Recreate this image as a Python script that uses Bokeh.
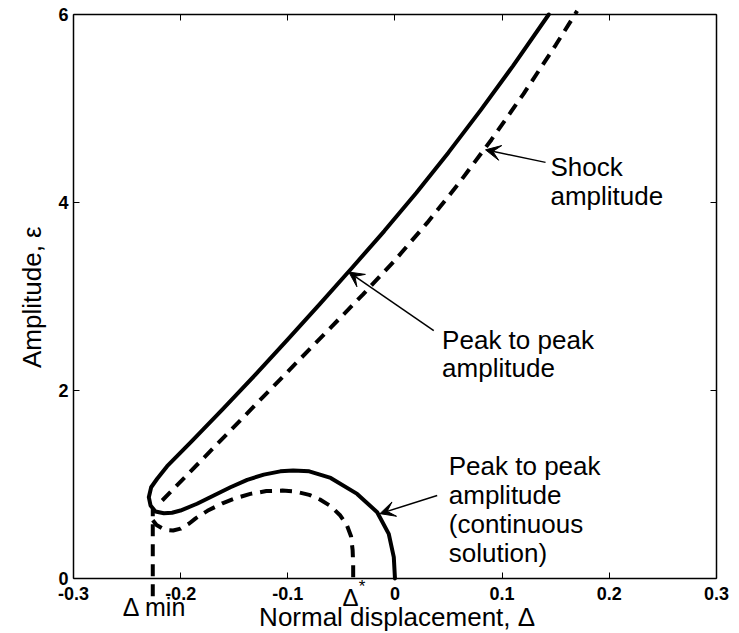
import math
from bokeh.plotting import figure
from bokeh.models import Range1d, LinearAxis, FixedTicker, Label, Arrow, VeeHead
from bokeh.embed import file_html
from bokeh.resources import INLINE

# ---- data ---------------------------------------------------------------
# Peak-to-peak amplitude: upper (shock) branch, loop near delta_min, and the
# continuous-solution branch closing on delta = 0
pp_upper_x = [0.1435, 0.110, 0.080, 0.050, 0.020, -0.010, -0.040, -0.070, -0.100,
              -0.130, -0.160, -0.190, -0.2126]
pp_upper_eps = [6.0, 5.451, 4.983, 4.533, 4.104, 3.696, 3.306, 2.922, 2.544,
                2.172, 1.809, 1.455, 1.195]

pp_loop_x = [-0.2219, -0.2275, -0.2297, -0.2281, -0.2235]
pp_loop_eps = [1.061, 0.971, 0.865, 0.777, 0.712]

pp_cont_x = [-0.2157, -0.2080, -0.2002, -0.1847, -0.1691, -0.1535, -0.1379, -0.1224,
             -0.107, -0.095, -0.080, -0.060, -0.0353, -0.0166, -0.0058, -0.0011, 0.0]
pp_cont_eps = [0.695, 0.700, 0.723, 0.795, 0.883, 0.971, 1.050, 1.105,
               1.140, 1.150, 1.140, 1.070, 0.900, 0.705, 0.475, 0.227, 0.0]

# Shock amplitude (dashed)
shock_upper_x = [-0.2172, -0.184, -0.150, -0.100, -0.050, -0.030, 0.0, 0.030,
                 0.060, 0.090, 0.120, 0.150, 0.170]
shock_upper_eps = [0.83, 1.218, 1.616, 2.201, 2.786, 3.020, 3.386, 3.783,
                   4.210, 4.668, 5.156, 5.675, 6.038]

shock_cont_x = [-0.226, -0.2225, -0.2172, -0.212, -0.207, -0.200, -0.192, -0.186,
                -0.175, -0.161, -0.150, -0.135, -0.120, -0.105, -0.093, -0.080,
                -0.070, -0.060, -0.051, -0.045, -0.041, -0.0395, -0.039, -0.039]
shock_cont_eps = [0.62, 0.57, 0.535, 0.515, 0.51, 0.53, 0.585, 0.64,
                  0.72, 0.80, 0.85, 0.90, 0.93, 0.935, 0.925, 0.89,
                  0.84, 0.77, 0.67, 0.57, 0.45, 0.30, 0.15, 0.0]

# Minimum normal displacement marker (runs a little below the axis)
delta_min = -0.226
delta_min_eps = [-0.19, 0.74]

x_lim = (-0.3, 0.3)
y_lim = (0, 6)
x_ticks = [-0.3, -0.2, -0.1, 0.0, 0.1, 0.2, 0.3]
x_tick_labels = ["-0.3", "-0.2", "-0.1", "0", "0.1", "0.2", "0.3"]
y_ticks = [0, 2, 4, 6]
y_tick_labels = ["0", "2", "4", "6"]

FONT = "Liberation Sans"

# ---- figure -------------------------------------------------------------
# The frame fills the whole canvas; the four box edges are axes pinned to the
# data limits, so the delta markers under the x axis can be drawn as well.
p = figure(width=739, height=633,
           x_range=Range1d(-0.3681, 0.3215), y_range=Range1d(-0.5851, 6.1489),
           output_backend="svg", toolbar_location=None, min_border=0)
p.grid.visible = False
p.background_fill_color = "white"
p.border_fill_color = "white"
p.outline_line_color = None


def style_axis(ax, ticks, labels=None):
    ax.ticker = FixedTicker(ticks=ticks)
    ax.minor_tick_line_color = None
    ax.major_tick_in = 6
    ax.major_tick_out = 0
    ax.major_tick_line_color = "black"
    ax.axis_line_color = "black"
    ax.axis_line_width = 1.5
    if labels is None:
        ax.major_label_text_font_size = "1px"
        ax.major_label_text_color = None
        ax.major_label_standoff = 0
    else:
        ax.major_label_overrides = {t: l for t, l in zip(ticks, labels)}
        ax.major_label_text_font = FONT
        ax.major_label_text_font_style = "bold"
        ax.major_label_text_font_size = "18px"
        ax.major_label_text_color = "black"


xb = p.xaxis[0]
style_axis(xb, x_ticks, x_tick_labels)
xb.fixed_location = y_lim[0]
xb.bounds = x_lim
xb.major_label_standoff = 8

yl = p.yaxis[0]
style_axis(yl, y_ticks, y_tick_labels)
yl.fixed_location = x_lim[0]
yl.bounds = y_lim
yl.major_label_standoff = 5

top = LinearAxis(fixed_location=y_lim[1], bounds=x_lim)
style_axis(top, x_ticks)
p.add_layout(top, "above")

right = LinearAxis(fixed_location=x_lim[1], bounds=y_lim)
style_axis(right, y_ticks)
p.add_layout(right, "right")


def text(x, y, s, size, angle=0.0, align="left"):
    p.add_layout(Label(x=x, y=y, text=s, text_font=FONT, text_font_size=f"{size}px",
                       text_color="black", angle=angle, text_baseline="alphabetic",
                       text_align=align))


# axis titles
text(0.002, -0.409, "Normal displacement, Δ", 26, align="center")
text(-0.3386, 2.993, "Amplitude, ε", 26, angle=math.pi / 2, align="center")

# ---- curves -------------------------------------------------------------
LW = 4
p.line(pp_upper_x + pp_loop_x + pp_cont_x, pp_upper_eps + pp_loop_eps + pp_cont_eps,
       line_color="black", line_width=LW, line_join="round", line_cap="round")
p.line(shock_upper_x, shock_upper_eps, line_color="black", line_width=LW,
       line_dash="12 8")
p.line(shock_cont_x, shock_cont_eps, line_color="black", line_width=LW,
       line_dash="12 8")
p.line([delta_min, delta_min], delta_min_eps, line_color="black", line_width=LW,
       line_dash="12 8")

# ---- annotations --------------------------------------------------------
def note(lines, x, baselines):
    for txt, y in zip(lines, baselines):
        text(x, y, txt, 26)


def pointer(x0, y0, x1, y1):
    p.add_layout(Arrow(x_start=x0, y_start=y0, x_end=x1, y_end=y1, line_width=1.5,
                       line_color="black",
                       end=VeeHead(size=15, fill_color="black", line_color="black",
                                   line_width=1)))


note(["Shock", "amplitude"], 0.1451, [4.380, 4.068])
pointer(0.1405, 4.427, 0.0845, 4.56)

note(["Peak to peak", "amplitude"], 0.044, [2.537, 2.235])
pointer(0.0362, 2.638, -0.0431, 3.26)

note(["Peak to peak", "amplitude", "(continuous", "solution)"], 0.0502,
     [1.196, 0.888, 0.584, 0.271])
pointer(0.0394, 0.883, -0.014, 0.69)

# labels below the axis marking delta_min and delta*
text(-0.2242, -0.306, "Δ min", 25, align="center")
text(-0.0415, -0.203, "Δ", 24, align="center")
text(-0.0306, -0.082, "*", 17, align="center")

open("out.html", "w").write(file_html(p, INLINE))
